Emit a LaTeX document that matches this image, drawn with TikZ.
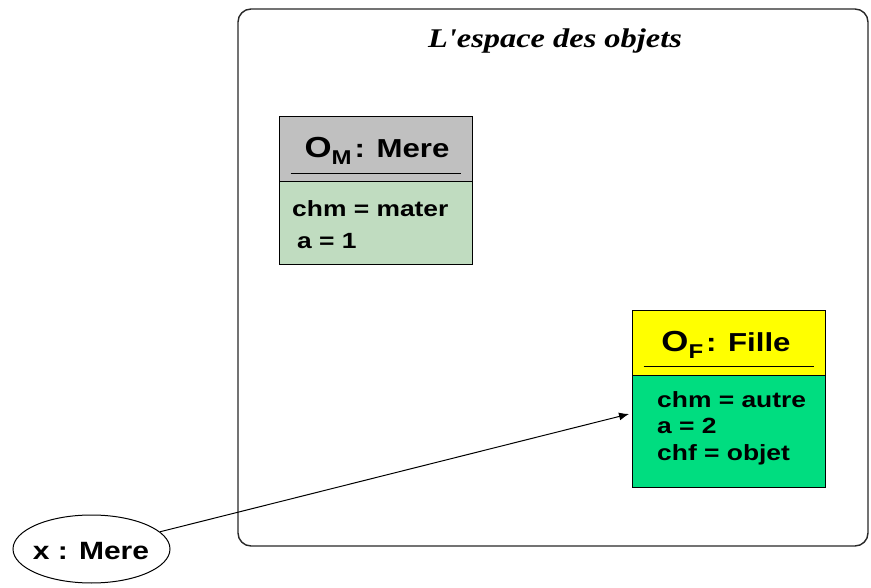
\documentclass[tikz,border=0pt]{standalone}
\usepackage{fontspec}
\setmainfont{Liberation Sans}
\newfontfamily\arialb{Liberation Sans}[FakeStretch=1.2]
\newfontfamily\timesb{Liberation Serif}[FakeStretch=1.2]
\usetikzlibrary{arrows.meta,shapes.geometric}
\definecolor{hgray}{RGB}{192,192,192}
\definecolor{lgreen}{RGB}{192,220,192}
\definecolor{hyellow}{RGB}{255,255,0}
\definecolor{bgreen}{RGB}{0,221,128}
\definecolor{frame}{RGB}{40,40,40}
\tikzset{
  hdrbox/.style={draw=black,line width=1pt,minimum width=193pt,inner sep=0pt},
  attr/.style={anchor=base west,inner sep=0pt,font=\arialb\bfseries\fontsize{22}{26}\selectfont},
  hdrtxt/.style={anchor=base,inner sep=0pt,font=\arialb\bfseries\fontsize{26}{30}\selectfont},
  uline/.style={line width=1pt},
}
\newcommand{\objname}[2]{{\fontsize{29}{30}\selectfont O}\raisebox{-7pt}{\fontsize{20}{22}\selectfont #1}\hspace{3pt}: #2}
\begin{document}
\begin{tikzpicture}[x=1pt,y=-1pt]
\useasboundingbox (0,0) rectangle (871,588);
% space of objects
\draw[frame,line width=1.4pt,rounded corners=13pt] (238,9) rectangle (868,546);
\node[anchor=base,inner sep=0pt,font=\timesb\bfseries\itshape\fontsize{27}{30}\selectfont] (title) at (555,48) {L'espace des objets};
% Mere object
\node[hdrbox,fill=hgray,minimum height=65pt] (mh) at (375.5,149.5) {};
\node[hdrbox,fill=lgreen,minimum height=83pt] (mb) at (375.5,223.5) {};
\node[hdrtxt] (mt) at (377,158) {\objname{M}{Mere}};
\draw[uline] ([xshift=12pt,yshift=9pt]mh.south west) coordinate (mu1) -- ([xshift=-12pt,yshift=9pt]mh.south east) coordinate (mu2);
\node[attr] (m1) at (292,217) {chm = mater};
\node[attr] (m2) at (297,249) {a = 1};
% Fille object
\node[hdrbox,fill=hyellow,minimum height=64pt] (fh) at (728.5,343) {};
\node[hdrbox,fill=bgreen,minimum height=112pt] (fb) at (728.5,431) {};
\node[hdrtxt] (ft) at (726,352) {\objname{F}{Fille}};
\draw[uline] ([xshift=12pt,yshift=9pt]fh.south west) coordinate (fu1) -- ([xshift=-12pt,yshift=9pt]fh.south east) coordinate (fu2);
\node[attr] (f1) at (657,407) {chm = autre};
\node[attr] (f2) at (657,433) {a = 2};
\node[attr] (f3) at (657,460) {chf = objet};
% reference variable
\node[draw=black,line width=1pt,ellipse,minimum width=157pt,minimum height=68pt,inner sep=0pt] (x) at (91.5,549) {};
\node[anchor=base,inner sep=0pt,font=\arialb\bfseries\fontsize{25}{28}\selectfont] (xt) at (91,559) {x : Mere};
\coordinate (tip) at (629,414);
\draw[line width=1pt,-{Latex[length=10pt,width=8pt]}] (x) -- (tip);
\end{tikzpicture}
\end{document}
